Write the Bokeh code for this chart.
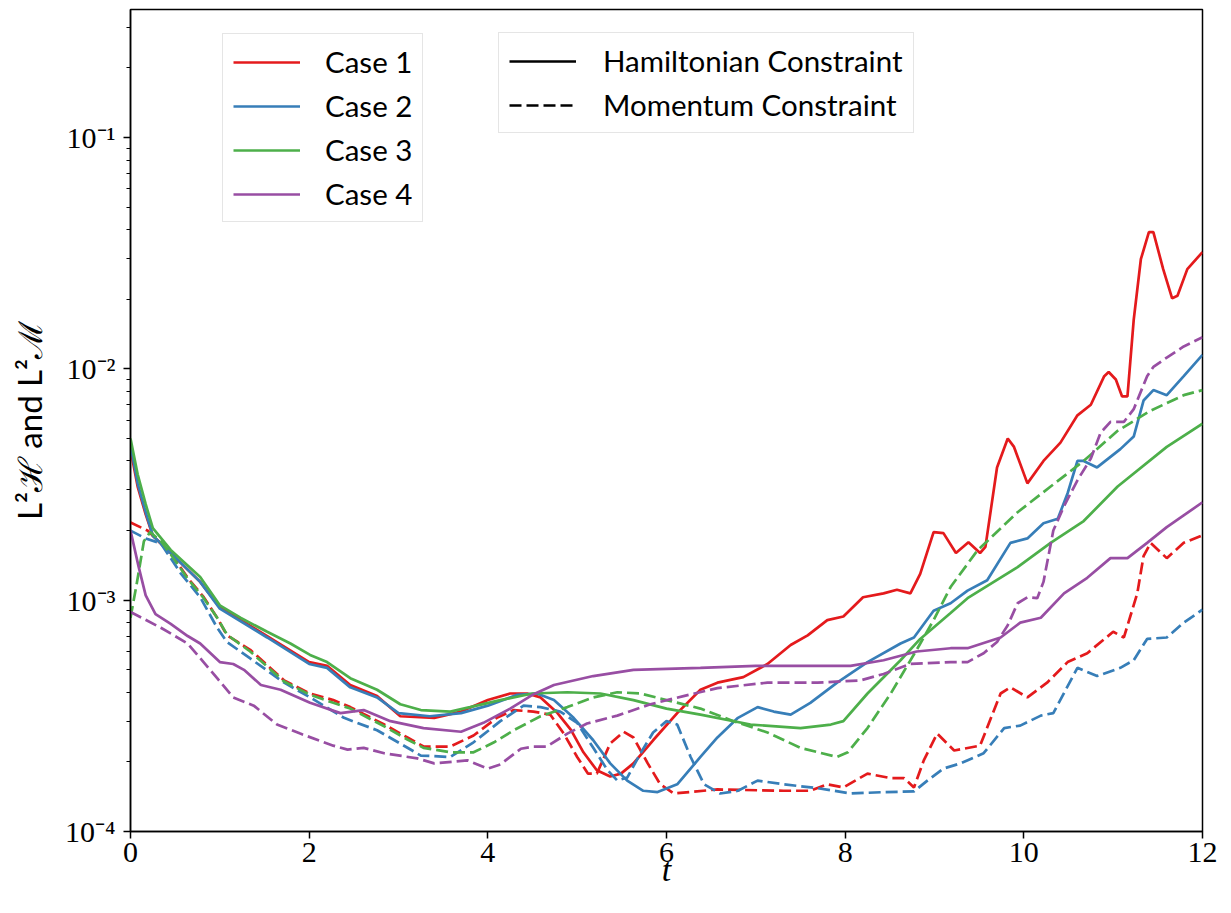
import numpy as np
from bokeh.plotting import figure
from bokeh.models import (Legend, LegendItem, FixedTicker, CustomJSTickFormatter,
                          Range1d)
from bokeh.embed import file_html
from bokeh.resources import INLINE

# ---------------- data ----------------
t_c1_h = [0, 0.08, 0.17, 0.25, 0.45, 0.78, 1.0, 1.53, 2.0, 2.2, 2.46, 2.76, 3.02, 3.4, 3.7,
          4.0, 4.25, 4.44, 4.59, 4.78, 4.93, 5.07, 5.22, 5.37, 5.49, 5.63, 5.85, 6.12, 6.38,
          6.57, 6.86, 7.13, 7.39, 7.58, 7.8, 7.98, 8.2, 8.43, 8.58, 8.73, 8.84, 8.99, 9.1,
          9.24, 9.38, 9.51, 9.57, 9.7, 9.82, 9.89, 10.04, 10.22, 10.41, 10.6, 10.75, 10.9,
          10.95, 11.03, 11.1, 11.16, 11.23, 11.31, 11.4, 11.45, 11.56, 11.66, 11.72, 11.83, 12]
c1_h = [4.5e-3, 3.1e-3, 2.35e-3, 1.9e-3, 1.6e-3, 1.2e-3, 9.3e-4, 7.0e-4, 5.4e-4, 5.2e-4,
        4.3e-4, 3.85e-4, 3.15e-4, 3.1e-4, 3.3e-4, 3.7e-4, 3.95e-4, 3.95e-4, 3.8e-4, 3.25e-4,
        2.75e-4, 2.2e-4, 1.84e-4, 1.73e-4, 1.78e-4, 1.97e-4, 2.48e-4, 3.25e-4, 4.1e-4,
        4.4e-4, 4.65e-4, 5.3e-4, 6.4e-4, 7.05e-4, 8.2e-4, 8.5e-4, 1.03e-3, 1.07e-3, 1.11e-3,
        1.07e-3, 1.3e-3, 1.97e-3, 1.95e-3, 1.6e-3, 1.78e-3, 1.6e-3, 1.7e-3, 3.75e-3, 5.0e-3,
        4.6e-3, 3.2e-3, 4.0e-3, 4.8e-3, 6.3e-3, 7.0e-3, 9.3e-3, 9.7e-3, 9.0e-3, 7.6e-3,
        7.6e-3, 1.63e-2, 2.98e-2, 3.9e-2, 3.9e-2, 2.7e-2, 2.02e-2, 2.07e-2, 2.7e-2, 3.2e-2]

t_c2_h = [0, 0.08, 0.17, 0.25, 0.45, 0.78, 1.0, 1.53, 2.0, 2.2, 2.46, 2.76, 3.0, 3.35, 3.7,
          4.0, 4.33, 4.55, 4.74, 4.96, 5.18, 5.37, 5.56, 5.74, 5.9, 6.12, 6.38, 6.57, 6.8,
          7.02, 7.2, 7.39, 7.61, 7.91, 8.25, 8.62, 8.77, 8.99, 9.18, 9.37, 9.59, 9.85, 10.04,
          10.22, 10.38, 10.49, 10.6, 10.67, 10.82, 11.08, 11.23, 11.34, 11.45, 11.6, 11.79, 12]
c2_h = [4.7e-3, 3.2e-3, 2.4e-3, 1.9e-3, 1.6e-3, 1.2e-3, 9.2e-4, 6.9e-4, 5.3e-4, 5.1e-4,
        4.2e-4, 3.8e-4, 3.25e-4, 3.15e-4, 3.25e-4, 3.5e-4, 3.9e-4, 3.95e-4, 3.7e-4, 3.1e-4,
        2.48e-4, 1.97e-4, 1.66e-4, 1.5e-4, 1.48e-4, 1.6e-4, 2.1e-4, 2.55e-4, 3.1e-4, 3.45e-4,
        3.3e-4, 3.2e-4, 3.6e-4, 4.4e-4, 5.4e-4, 6.5e-4, 6.9e-4, 9.0e-4, 9.7e-4, 1.1e-3,
        1.22e-3, 1.77e-3, 1.85e-3, 2.15e-3, 2.25e-3, 2.9e-3, 4.0e-3, 4.0e-3, 3.75e-3, 4.5e-3,
        5.1e-3, 7.3e-3, 8.1e-3, 7.7e-3, 9.3e-3, 1.15e-2]

t_c3_h = [0, 0.08, 0.17, 0.25, 0.45, 0.78, 1.0, 1.23, 1.53, 1.79, 2.01, 2.2, 2.46, 2.76, 3.02,
          3.25, 3.58, 3.8, 4.14, 4.5, 4.89, 5.26, 5.63, 6.0, 6.38, 6.94, 7.5, 7.84, 7.98, 8.25,
          8.62, 8.84, 9.18, 9.37, 9.93, 10.3, 10.67, 11.05, 11.6, 12]
c3_h = [5.0e-3, 3.5e-3, 2.6e-3, 2.05e-3, 1.65e-3, 1.26e-3, 9.5e-4, 8.4e-4, 7.3e-4, 6.5e-4,
        5.8e-4, 5.4e-4, 4.6e-4, 4.1e-4, 3.55e-4, 3.35e-4, 3.3e-4, 3.45e-4, 3.7e-4, 3.95e-4,
        4.0e-4, 3.95e-4, 3.7e-4, 3.4e-4, 3.2e-4, 2.9e-4, 2.8e-4, 2.9e-4, 3.0e-4, 3.95e-4,
        5.5e-4, 6.8e-4, 8.8e-4, 1.02e-3, 1.39e-3, 1.77e-3, 2.2e-3, 3.1e-3, 4.6e-3, 5.8e-3]

t_c4_h = [0, 0.09, 0.17, 0.28, 0.45, 0.64, 0.78, 1.0, 1.15, 1.27, 1.46, 1.68, 2.01, 2.35, 2.61,
          2.91, 3.28, 3.7, 3.95, 4.25, 4.5, 4.74, 5.18, 5.63, 6.38, 7.0, 8.06, 8.43, 8.8, 9.18,
          9.37, 9.74, 9.96, 10.19, 10.45, 10.71, 10.97, 11.16, 11.38, 11.6, 12]
c4_h = [2.0e-3, 1.4e-3, 1.05e-3, 8.7e-4, 7.9e-4, 7.0e-4, 6.5e-4, 5.4e-4, 5.3e-4, 5.0e-4,
        4.3e-4, 4.1e-4, 3.6e-4, 3.25e-4, 3.35e-4, 3.0e-4, 2.8e-4, 2.7e-4, 2.95e-4, 3.4e-4,
        3.9e-4, 4.3e-4, 4.7e-4, 5.0e-4, 5.1e-4, 5.2e-4, 5.2e-4, 5.5e-4, 6.0e-4, 6.2e-4,
        6.2e-4, 6.9e-4, 8.0e-4, 8.4e-4, 1.07e-3, 1.25e-3, 1.52e-3, 1.52e-3, 1.77e-3, 2.07e-3,
        2.65e-3]

t_c1_m = [0, 0.19, 0.45, 0.64, 0.82, 0.97, 1.08, 1.34, 1.72, 2.01, 2.27, 2.46, 2.84, 3.1, 3.28,
          3.58, 3.84, 4.1, 4.29, 4.51, 4.7, 4.85, 5.0, 5.12, 5.22, 5.37, 5.52, 5.63, 5.79, 5.93,
          6.08, 6.57, 7.31, 7.61, 7.8, 7.98, 8.25, 8.51, 8.66, 8.77, 8.88, 9.03, 9.22, 9.51,
          9.74, 9.85, 10.04, 10.26, 10.49, 10.71, 11.0, 11.12, 11.27, 11.34, 11.42, 11.6,
          11.79, 12]
c1_m = [2.17e-3, 2.0e-3, 1.6e-3, 1.25e-3, 1.03e-3, 8.4e-4, 7.05e-4, 6.1e-4, 4.5e-4, 3.95e-4,
        3.7e-4, 3.45e-4, 2.9e-4, 2.55e-4, 2.33e-4, 2.33e-4, 2.6e-4, 3.1e-4, 3.35e-4, 3.3e-4,
        3.2e-4, 2.65e-4, 2.1e-4, 1.78e-4, 1.78e-4, 2.4e-4, 2.7e-4, 2.55e-4, 1.97e-4, 1.6e-4,
        1.46e-4, 1.52e-4, 1.5e-4, 1.5e-4, 1.6e-4, 1.55e-4, 1.78e-4, 1.7e-4, 1.7e-4, 1.55e-4,
        2.03e-4, 2.65e-4, 2.24e-4, 2.35e-4, 3.95e-4, 4.2e-4, 3.8e-4, 4.4e-4, 5.4e-4, 5.9e-4,
        7.3e-4, 6.9e-4, 1.07e-3, 1.55e-3, 1.77e-3, 1.52e-3, 1.77e-3, 1.91e-3]

t_c2_m = [0, 0.17, 0.34, 0.56, 0.78, 0.97, 1.08, 1.34, 1.72, 2.01, 2.39, 2.76, 3.02, 3.25, 3.58,
          3.84, 4.14, 4.4, 4.59, 4.81, 5.0, 5.18, 5.34, 5.45, 5.56, 5.71, 5.85, 6.0, 6.12,
          6.27, 6.42, 6.6, 6.8, 7.02, 7.31, 7.69, 8.06, 8.43, 8.77, 8.92, 9.1, 9.29, 9.55,
          9.78, 9.96, 10.19, 10.33, 10.6, 10.82, 11.08, 11.23, 11.38, 11.6, 11.79, 12]
c2_m = [2.0e-3, 1.85e-3, 1.76e-3, 1.31e-3, 1.03e-3, 7.6e-4, 6.6e-4, 5.6e-4, 4.4e-4, 3.8e-4,
        3.1e-4, 2.74e-4, 2.4e-4, 2.13e-4, 2.1e-4, 2.43e-4, 3.0e-4, 3.5e-4, 3.45e-4, 3.3e-4,
        2.95e-4, 2.3e-4, 1.84e-4, 1.66e-4, 1.71e-4, 2.18e-4, 2.68e-4, 3.0e-4, 2.9e-4, 2.1e-4,
        1.6e-4, 1.46e-4, 1.5e-4, 1.66e-4, 1.6e-4, 1.54e-4, 1.46e-4, 1.48e-4, 1.49e-4, 1.66e-4,
        1.87e-4, 1.97e-4, 2.18e-4, 2.8e-4, 2.87e-4, 3.17e-4, 3.25e-4, 5.1e-4, 4.7e-4, 5.1e-4,
        5.5e-4, 6.8e-4, 6.9e-4, 8.0e-4, 9.1e-4]

t_c3_m = [0, 0.07, 0.15, 0.22, 0.34, 0.45, 0.64, 0.82, 0.97, 1.08, 1.34, 1.72, 2.01, 2.27, 2.46,
          2.84, 3.1, 3.28, 3.58, 3.84, 4.07, 4.29, 4.59, 4.89, 5.18, 5.45, 5.71, 6.0, 6.38,
          6.75, 7.13, 7.5, 7.91, 8.03, 8.25, 8.51, 8.8, 8.99, 9.18, 9.48, 9.93, 10.3, 10.67,
          11.05, 11.42, 11.79, 12]
c3_m = [8.4e-4, 1.18e-3, 1.8e-3, 1.97e-3, 1.8e-3, 1.58e-3, 1.24e-3, 1.02e-3, 8.4e-4, 7.1e-4,
        6.0e-4, 4.45e-4, 3.9e-4, 3.6e-4, 3.4e-4, 2.85e-4, 2.5e-4, 2.3e-4, 2.2e-4, 2.2e-4,
        2.43e-4, 2.74e-4, 3.15e-4, 3.45e-4, 3.8e-4, 4.0e-4, 3.95e-4, 3.7e-4, 3.4e-4, 3.0e-4,
        2.68e-4, 2.3e-4, 2.1e-4, 2.2e-4, 2.8e-4, 3.95e-4, 6.1e-4, 8.2e-4, 1.14e-3, 1.64e-3,
        2.4e-3, 3.1e-3, 4.0e-3, 5.4e-3, 6.6e-3, 7.7e-3, 8.1e-3]

t_c4_m = [0, 0.34, 0.64, 0.97, 1.15, 1.38, 1.64, 1.9, 2.27, 2.43, 2.61, 2.84, 3.21, 3.4, 3.77,
          4.0, 4.14, 4.37, 4.51, 4.66, 4.89, 5.11, 5.45, 5.82, 6.19, 6.57, 7.13, 7.69, 8.17,
          8.43, 8.73, 9.18, 9.37, 9.55, 9.7, 9.82, 9.93, 10.04, 10.15, 10.22, 10.33, 10.45,
          10.6, 10.75, 10.86, 10.97, 11.12, 11.23, 11.38, 11.45, 11.6, 11.79, 12]
c4_m = [8.9e-4, 7.6e-4, 6.5e-4, 4.6e-4, 3.8e-4, 3.5e-4, 2.9e-4, 2.65e-4, 2.35e-4, 2.26e-4,
        2.3e-4, 2.18e-4, 2.07e-4, 1.97e-4, 2.03e-4, 1.87e-4, 1.95e-4, 2.28e-4, 2.33e-4,
        2.33e-4, 2.65e-4, 2.93e-4, 3.17e-4, 3.55e-4, 3.85e-4, 4.17e-4, 4.4e-4, 4.4e-4, 4.5e-4,
        4.8e-4, 5.3e-4, 5.4e-4, 5.4e-4, 5.9e-4, 6.6e-4, 7.8e-4, 9.7e-4, 1.03e-3, 1.02e-3,
        1.2e-3, 2.0e-3, 2.55e-3, 3.3e-3, 4.1e-3, 5.3e-3, 5.9e-3, 5.9e-3, 6.7e-3, 9.3e-3,
        1.02e-2, 1.12e-2, 1.25e-2, 1.37e-2]

case_labels = ["Case 1", "Case 2", "Case 3", "Case 4"]
constraint_labels = ["Hamiltonian Constraint", "Momentum Constraint"]
x_ticks = [0, 2, 4, 6, 8, 10, 12]
y_decades = [-4, -3, -2, -1]

# ---------------- styling ----------------
colors = ["#e41a1c", "#377eb8", "#4daf4a", "#984ea3"]
LW = 2.7
DASH = "12 5"
SERIF = "Liberation Serif"
SANS = "Lato"

y_top = 0.358
FL, FT = 130, 9          # frame left / top on the page
p = figure(frame_width=1072, frame_height=822,
           x_range=Range1d(0, 12), y_range=Range1d(1e-4, y_top),
           y_axis_type="log", output_backend="svg", toolbar_location=None,
           min_border_left=FL, min_border_top=FT, min_border_right=20,
           min_border_bottom=0)
p.grid.visible = False
p.outline_line_color = "black"
p.outline_line_width = 1.5
p.background_fill_color = "white"
p.border_fill_color = "white"

series = [(t_c1_h, c1_h, t_c1_m, c1_m), (t_c2_h, c2_h, t_c2_m, c2_m),
          (t_c3_h, c3_h, t_c3_m, c3_m), (t_c4_h, c4_h, t_c4_m, c4_m)]
solid_renderers = []
for (th, vh, tm, vm), col in zip(series, colors):
    rh = p.line(th, vh, line_color=col, line_width=LW)
    p.line(tm, vm, line_color=col, line_width=LW, line_dash=DASH)
    solid_renderers.append(rh)

# legend-only (hidden) renderers for the line-style legend
r_solid = p.line(t_c1_h, c1_h, line_color="black", line_width=LW, visible=False)
r_dash = p.line(t_c1_m, c1_m, line_color="black", line_width=LW, line_dash=DASH, visible=False)

# axes
for ax in (p.xaxis[0], p.yaxis[0]):
    ax.axis_line_width = 1.5
    ax.major_tick_line_width = 1.5
    ax.minor_tick_line_width = 1.2
    ax.major_tick_out = 7
    ax.major_tick_in = 0
    ax.minor_tick_out = 4
    ax.minor_tick_in = 0
    ax.major_label_text_font = SERIF
    ax.major_label_text_font_size = "30px"
    ax.major_label_text_color = "black"
    ax.axis_label_text_color = "black"

p.xaxis.ticker = FixedTicker(ticks=x_ticks, minor_ticks=[])
p.xaxis.major_label_standoff = 4
p.xaxis.axis_label = "t"
p.xaxis.axis_label_text_font = SERIF
p.xaxis.axis_label_text_font_style = "italic"
p.xaxis.axis_label_text_font_size = "34px"
p.xaxis.axis_label_standoff = -14

major_y = [10.0 ** e for e in y_decades]
minor_y = [m * 10.0 ** e for e in y_decades for m in range(2, 10) if m * 10.0 ** e <= y_top]
p.yaxis.ticker = FixedTicker(ticks=major_y, minor_ticks=minor_y)
p.yaxis.formatter = CustomJSTickFormatter(code="""
const e = Math.round(Math.log10(tick));
const sup = {"-1": "\u207b\u00b9", "-2": "\u207b\u00b2", "-3": "\u207b\u00b3", "-4": "\u207b\u2074"};
return "10" + sup[String(e)];
""")
p.yaxis.major_label_standoff = 8
p.yaxis.axis_label = "L\u00b2\u210b and L\u00b2\u2133"
p.yaxis.axis_label_text_font = SANS
p.yaxis.axis_label_text_font_style = "normal"
p.yaxis.axis_label_text_font_size = "33px"
p.yaxis.axis_label_standoff = 13

# legends (location measured from the frame's bottom-left corner)
frame_bottom_page = FT + 822
leg1 = Legend(items=[LegendItem(label=l, renderers=[r]) for l, r in zip(case_labels, solid_renderers)],
              location=(222 - FL, frame_bottom_page - 222))
leg2 = Legend(items=[LegendItem(label=constraint_labels[0], renderers=[r_solid]),
                     LegendItem(label=constraint_labels[1], renderers=[r_dash])],
              location=(498 - FL, frame_bottom_page - 133))
for lg, stand in ((leg1, 25), (leg2, 27)):
    lg.label_text_font = SANS
    lg.label_text_font_size = "29.5px"
    lg.label_text_color = "black"
    lg.glyph_width = 67
    lg.glyph_height = 34
    lg.label_height = 34
    lg.label_standoff = stand
    lg.spacing = 9
    lg.padding = 10
    lg.margin = 0
    lg.border_line_color = "#cccccc"
    lg.border_line_width = 1.5
    lg.background_fill_color = "white"
    lg.background_fill_alpha = 0.8
    p.add_layout(lg)

open("out.html", "w").write(file_html(p, INLINE))
